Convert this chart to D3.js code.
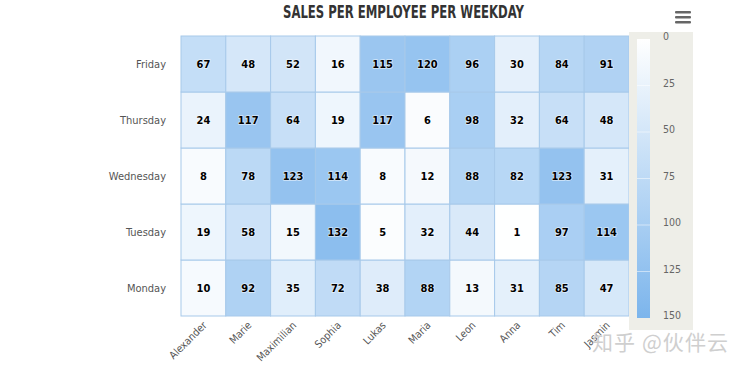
<!DOCTYPE html>
<meta charset="UTF-8">
<style>
body { margin: 0; background: #fff; }
svg { font-family: "DejaVu Sans Condensed", "Liberation Sans Narrow", sans-serif; }
.cell { stroke: #a7c9ea; stroke-width: 1px; }
.lbl { font-size: 11px; font-weight: bold; fill: #000; text-anchor: middle;
       paint-order: stroke; stroke: #fff; stroke-width: 1.5px; stroke-opacity: .6; }
.ylab { font-size: 11px; fill: #555; text-anchor: end; }
.xlab { font-size: 10.5px; fill: #555; text-anchor: end; }
.leg { font-size: 10.5px; fill: #666; }
</style>
<svg width="744" height="372"></svg>
<script src="https://d3js.org/d3.v7.min.js"></script>
<script>
var people = ["Alexander", "Marie", "Maximilian", "Sophia", "Lukas", "Maria", "Leon", "Anna", "Tim", "Jasmin"]
var days = ["Monday", "Tuesday", "Wednesday", "Thursday", "Friday"]
var monday    = [10, 92, 35, 72, 38, 88, 13, 31, 85, 47]
var tuesday   = [19, 58, 15, 132, 5, 32, 44, 1, 97, 114]
var wednesday = [8, 78, 123, 114, 8, 12, 88, 82, 123, 31]
var thursday  = [24, 117, 64, 19, 117, 6, 98, 32, 64, 48]
var friday    = [67, 48, 52, 16, 115, 120, 96, 30, 84, 91]
var legendTicks = [0, 25, 50, 75, 100, 125, 150]

var rows = [monday, tuesday, wednesday, thursday, friday]
var cells = []
rows.forEach((r, di) => {
    r.forEach((v, pi) => cells.push({day: days[di], person: people[pi], value: v}))
})

var svg = d3.select("svg")

var x = d3.scaleBand().domain(people).range([181, 629])
var y = d3.scaleBand().domain(days.slice().reverse()).range([36, 316])
var color = d3.scaleLinear().domain([0, 150]).range(["#ffffff", "#7cb5ec"])

// title
svg.append("text")
    .attr("x", 283).attr("y", 18)
    .attr("textLength", 241).attr("lengthAdjust", "spacingAndGlyphs")
    .style("font-size", "17px").style("font-weight", "bold").style("fill", "#333")
    .text("SALES PER EMPLOYEE PER WEEKDAY")

// menu icon
svg.append("g").selectAll("rect")
    .data([12, 17, 22]).enter().append("rect")
    .attr("x", 675).attr("y", d => d - 1).attr("width", 16).attr("height", 2.5)
    .attr("rx", 1).style("fill", "#666")

// cells
svg.append("g").selectAll("rect")
    .data(cells).enter().append("rect")
    .attr("class", "cell")
    .attr("x", d => x(d.person)).attr("y", d => y(d.day))
    .attr("width", x.bandwidth()).attr("height", y.bandwidth())
    .style("fill", d => color(d.value))

svg.append("g").selectAll("text")
    .data(cells).enter().append("text")
    .attr("class", "lbl")
    .attr("x", d => x(d.person) + x.bandwidth() / 2)
    .attr("y", d => y(d.day) + y.bandwidth() / 2 + 4)
    .text(d => d.value)

// y labels
svg.append("g").selectAll("text")
    .data(days).enter().append("text")
    .attr("class", "ylab")
    .attr("x", 166).attr("y", d => y(d) + y.bandwidth() / 2 + 4)
    .text(d => d)

// x labels
svg.append("g").selectAll("text")
    .data(people).enter().append("text")
    .attr("class", "xlab")
    .attr("transform", d => "translate(" + (x(d) + x.bandwidth() / 2 + 4) + ",326) rotate(-45)")
    .text(d => d)

// color legend
var ly = d3.scaleLinear().domain([0, 150]).range([39, 318])
var leg = svg.append("g")
leg.append("rect").attr("x", 629).attr("y", 32).attr("width", 64).attr("height", 298)
    .style("fill", "#eeeee8")

var grad = svg.append("defs").append("linearGradient")
    .attr("id", "cg").attr("x1", 0).attr("y1", 0).attr("x2", 0).attr("y2", 1)
grad.append("stop").attr("offset", "0%").attr("stop-color", color(0))
grad.append("stop").attr("offset", "100%").attr("stop-color", color(150))

leg.append("rect").attr("x", 637).attr("y", ly(0)).attr("width", 13).attr("height", ly(150) - ly(0))
    .style("fill", "url(#cg)")
leg.selectAll("line").data(legendTicks.slice(1, -1)).enter().append("line")
    .attr("x1", 637).attr("x2", 650).attr("y1", d => ly(d)).attr("y2", d => ly(d))
    .style("stroke", "#fff").style("stroke-opacity", .5)
leg.selectAll("text").data(legendTicks).enter().append("text")
    .attr("class", "leg")
    .attr("x", 663).attr("y", d => ly(d) + 1)
    .text(d => d)

// watermark
svg.append("text")
    .attr("x", 592).attr("y", 350)
    .attr("textLength", 136)
    .style("font-family", "'Noto Sans CJK SC', sans-serif")
    .style("font-size", "21px").style("fill", "#cfcfcf")
    .text("知乎 @伙伴云")
</script>
